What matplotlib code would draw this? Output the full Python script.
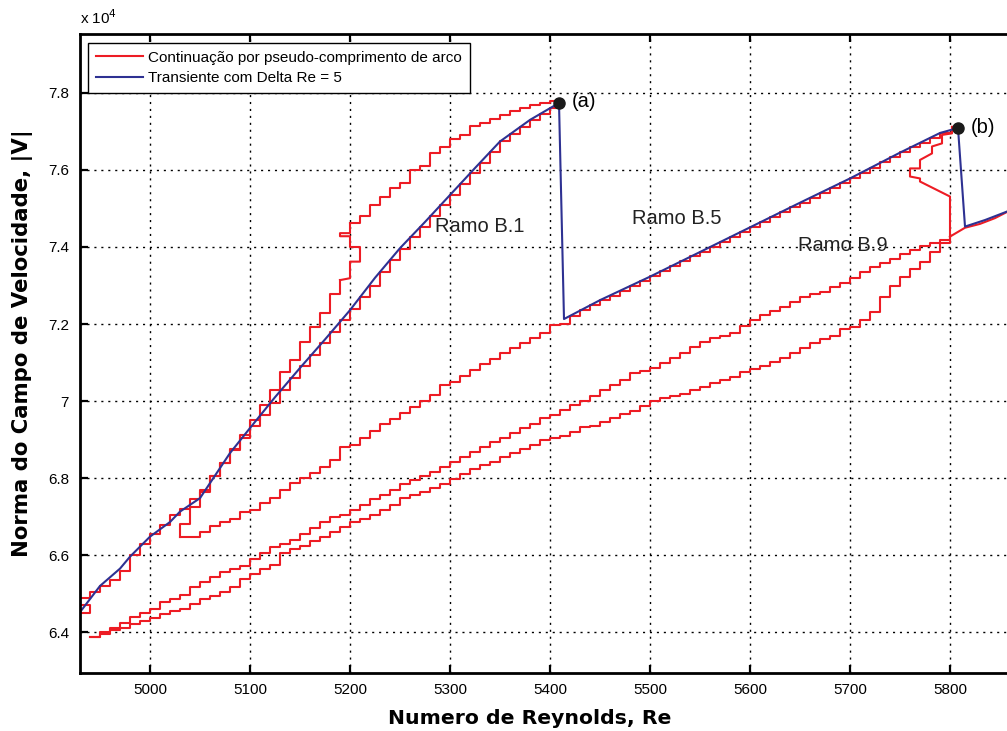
import matplotlib
matplotlib.use('Agg')
import matplotlib.pyplot as plt
from matplotlib.ticker import FormatStrFormatter

plt.rcParams['font.family'] = ['Liberation Sans', 'DejaVu Sans']

# valores de |V| em unidades de 1e4

# Ramo B.1 estavel - canto na borda esquerda (vertices)
re_b1_borda = [4930, 4930, 4940, 4940, 4925, 4925, 4940]
v_b1_borda = [6.41, 6.449, 6.449, 6.47, 6.47, 6.488, 6.488]

# Ramo B.1 estavel (degraus: inicio de cada degrau)
re_b1_est = [4940, 4940, 4950, 4960, 4970, 4980, 4990, 5000, 5010, 5020, 5030,
             5040, 5050, 5060, 5070, 5080, 5090, 5100, 5110, 5120, 5130, 5140,
             5150, 5160, 5170, 5180, 5190, 5200, 5210, 5220, 5230, 5240, 5250,
             5260, 5270, 5280, 5290, 5300, 5310, 5320, 5330, 5340, 5350, 5360,
             5370, 5380, 5390, 5400, 5409]
v_b1_est = [6.488, 6.505, 6.52, 6.535, 6.56, 6.60, 6.63, 6.655, 6.678, 6.705, 6.72,
            6.745, 6.77, 6.805, 6.84, 6.875, 6.905, 6.935, 6.965, 6.995, 7.03, 7.06,
            7.09, 7.12, 7.15, 7.18, 7.21, 7.24, 7.27, 7.30, 7.335, 7.365, 7.395,
            7.425, 7.452, 7.48, 7.508, 7.535, 7.563, 7.591, 7.619, 7.646, 7.674, 7.693,
            7.712, 7.73, 7.746, 7.762, 7.775]

# Ramo B.1 instavel, parte de cima (degraus)
re_b1_sup = [5200, 5210, 5220, 5230, 5240, 5250, 5260, 5270, 5280, 5290, 5300,
             5310, 5320, 5330, 5340, 5350, 5360, 5370, 5380, 5390, 5400, 5409]
v_b1_sup = [7.462, 7.48, 7.509, 7.531, 7.552, 7.566, 7.60, 7.609, 7.643, 7.66, 7.68,
            7.691, 7.713, 7.723, 7.732, 7.742, 7.753, 7.76, 7.769, 7.773, 7.778, 7.775]

# zigue-zague perto de Re = 5200 (vertices)
re_b1_nariz = [5190, 5200, 5200, 5210, 5210, 5200, 5200, 5190, 5190, 5200, 5200]
v_b1_nariz = [7.314, 7.319, 7.362, 7.362, 7.40, 7.40, 7.428, 7.428, 7.436, 7.436, 7.462]

# Ramo B.1 instavel, descida ate o ponto de retorno em Re ~ 5030 (degraus)
re_b1_desc = [5030, 5030, 5040, 5050, 5060, 5070, 5080, 5090, 5100, 5110, 5120,
              5130, 5140, 5150, 5160, 5170, 5180, 5190]
v_b1_desc = [6.648, 6.68, 6.725, 6.765, 6.805, 6.84, 6.873, 6.912, 6.95, 6.99, 7.029,
             7.076, 7.106, 7.154, 7.193, 7.228, 7.277, 7.314]

# ramo inferior a partir de Re ~ 5030 e Ramo B.5 (degraus)
re_b5 = [5030, 5050, 5060, 5070, 5080, 5090, 5100, 5110, 5120, 5130, 5140, 5150,
         5160, 5170, 5180, 5190, 5200, 5210, 5220, 5230, 5240, 5250, 5260, 5270,
         5280, 5290, 5300, 5310, 5320, 5330, 5340, 5350, 5360, 5370, 5380, 5390,
         5400, 5410, 5420, 5430, 5440, 5450, 5460, 5470, 5480, 5490, 5500, 5510,
         5520, 5530, 5540, 5550, 5560, 5570, 5580, 5590, 5600, 5610, 5620, 5630,
         5640, 5650, 5660, 5670, 5680, 5690, 5700, 5710, 5720, 5730, 5740, 5750,
         5760, 5770, 5780, 5790, 5802]
v_b5 = [6.648, 6.661, 6.675, 6.685, 6.695, 6.713, 6.717, 6.735, 6.748, 6.77, 6.788, 6.80,
        6.814, 6.83, 6.847, 6.881, 6.887, 6.905, 6.922, 6.94, 6.954, 6.968, 6.984, 7.00,
        7.015, 7.042, 7.05, 7.065, 7.08, 7.096, 7.11, 7.124, 7.137, 7.15, 7.163, 7.176,
        7.197, 7.20, 7.222, 7.236, 7.249, 7.262, 7.274, 7.287, 7.30, 7.312, 7.325, 7.338,
        7.35, 7.363, 7.376, 7.388, 7.40, 7.413, 7.426, 7.439, 7.452, 7.465, 7.477, 7.49,
        7.503, 7.515, 7.528, 7.541, 7.553, 7.566, 7.579, 7.593, 7.606, 7.62, 7.633, 7.646,
        7.659, 7.671, 7.683, 7.695, 7.712]

# retorno perto do ponto (b) (vertices)
re_b5_volta = [5802, 5802, 5792, 5792, 5782, 5782, 5770, 5770, 5760, 5760, 5770,
               5770, 5780, 5790, 5800, 5800]
v_b5_volta = [7.712, 7.695, 7.691, 7.669, 7.661, 7.643, 7.626, 7.604, 7.604, 7.583, 7.578,
              7.57, 7.557, 7.544, 7.531, 7.427]

# Ramo B.9 - curva de cima (degraus)
re_b9_sup = [4940, 4950, 4960, 4970, 4980, 4990, 5000, 5010, 5020, 5030, 5040, 5050,
             5060, 5070, 5080, 5090, 5100, 5110, 5120, 5130, 5140, 5150, 5160, 5170,
             5180, 5190, 5200, 5210, 5220, 5230, 5240, 5250, 5260, 5270, 5280, 5290,
             5300, 5310, 5320, 5330, 5340, 5350, 5360, 5370, 5380, 5390, 5400, 5410,
             5420, 5430, 5440, 5450, 5460, 5470, 5480, 5490, 5500, 5510, 5520, 5530,
             5540, 5550, 5560, 5570, 5580, 5590, 5600, 5610, 5620, 5630, 5640, 5650,
             5660, 5670, 5680, 5690, 5700, 5710, 5720, 5730, 5740, 5750, 5760, 5770,
             5780, 5790, 5800]
v_b9_sup = [6.388, 6.40, 6.412, 6.425, 6.44, 6.45, 6.459, 6.479, 6.487, 6.496, 6.518, 6.531,
            6.544, 6.557, 6.565, 6.571, 6.591, 6.605, 6.62, 6.628, 6.64, 6.656, 6.67, 6.685,
            6.70, 6.705, 6.717, 6.73, 6.745, 6.757, 6.77, 6.784, 6.795, 6.805, 6.816, 6.83,
            6.843, 6.855, 6.867, 6.88, 6.895, 6.905, 6.918, 6.93, 6.94, 6.955, 6.965, 6.977,
            6.99, 7.00, 7.013, 7.029, 7.042, 7.055, 7.072, 7.078, 7.085, 7.10, 7.111, 7.126,
            7.14, 7.154, 7.163, 7.17, 7.176, 7.195, 7.21, 7.223, 7.235, 7.245, 7.258, 7.271,
            7.278, 7.284, 7.295, 7.307, 7.319, 7.336, 7.347, 7.358, 7.368, 7.382, 7.392, 7.402,
            7.41, 7.418, 7.427]

# Ramo B.9 - curva de baixo (degraus)
re_b9_inf = [4940, 4950, 4960, 4970, 4980, 4990, 5000, 5010, 5020, 5030, 5040, 5050,
             5060, 5070, 5080, 5090, 5100, 5110, 5120, 5130, 5140, 5150, 5160, 5170,
             5180, 5190, 5200, 5210, 5220, 5230, 5240, 5250, 5260, 5270, 5280, 5290,
             5300, 5310, 5320, 5330, 5340, 5350, 5360, 5370, 5380, 5390, 5400, 5410,
             5420, 5430, 5440, 5450, 5460, 5470, 5480, 5490, 5500, 5510, 5520, 5530,
             5540, 5550, 5560, 5570, 5580, 5590, 5600, 5610, 5620, 5630, 5640, 5650,
             5660, 5670, 5680, 5690, 5700, 5710, 5720, 5730, 5740, 5750, 5760, 5770,
             5780, 5790, 5800]
v_b9_inf = [6.388, 6.395, 6.405, 6.41, 6.42, 6.43, 6.437, 6.448, 6.455, 6.461, 6.474, 6.487,
            6.495, 6.504, 6.517, 6.539, 6.552, 6.565, 6.575, 6.605, 6.617, 6.625, 6.637, 6.648,
            6.66, 6.674, 6.686, 6.695, 6.705, 6.718, 6.73, 6.748, 6.755, 6.764, 6.774, 6.785,
            6.797, 6.81, 6.824, 6.833, 6.843, 6.855, 6.866, 6.876, 6.887, 6.899, 6.905, 6.909,
            6.92, 6.932, 6.935, 6.946, 6.955, 6.966, 6.975, 6.987, 7.00, 7.008, 7.013, 7.018,
            7.03, 7.037, 7.046, 7.055, 7.063, 7.075, 7.082, 7.092, 7.102, 7.111, 7.125, 7.139,
            7.15, 7.16, 7.17, 7.186, 7.193, 7.21, 7.232, 7.27, 7.30, 7.322, 7.343, 7.362,
            7.388, 7.41, 7.427]

# Ramo B.9 depois de Re = 5800
re_b9_dir = [5800, 5815, 5830, 5845, 5860]
v_b9_dir = [7.427, 7.45, 7.46, 7.475, 7.495]

# transiente com Delta Re = 5
re_trans = [4930, 4950, 4970, 4980, 5000, 5020, 5030, 5050, 5060, 5080, 5100, 5125,
            5150, 5175, 5200, 5225, 5250, 5275, 5300, 5325, 5350, 5380, 5409,
            5414, 5450, 5500, 5550, 5600, 5650, 5700, 5750, 5790, 5808,
            5815, 5835, 5860]
v_trans = [6.452, 6.52, 6.565, 6.596, 6.648, 6.686, 6.713, 6.748, 6.787, 6.865, 6.93, 7.01,
           7.086, 7.16, 7.236, 7.32, 7.397, 7.465, 7.535, 7.605, 7.674, 7.73, 7.774,
           7.213, 7.262, 7.323, 7.387, 7.451, 7.515, 7.578, 7.645, 7.696, 7.709,
           7.453, 7.47, 7.495]

# pontos (a) e (b)
re_pontos = [5409, 5808]
v_pontos = [7.774, 7.709]

vermelho = '#ed1c24'
azul = '#2e3192'

fig = plt.figure(figsize=(10.07, 7.31), dpi=100)
ax = fig.add_axes([80/1007, 58/731, 927/1007, 639/731])

lw = 1.5
ax.plot(re_b1_borda, v_b1_borda, color=vermelho, lw=lw)
ax.plot(re_b1_est, v_b1_est, color=vermelho, lw=lw, drawstyle='steps-post',
        label='Continuação por pseudo-comprimento de arco')
ax.plot(re_b1_sup, v_b1_sup, color=vermelho, lw=lw, drawstyle='steps-post')
ax.plot(re_b1_nariz, v_b1_nariz, color=vermelho, lw=lw)
ax.plot(re_b1_desc, v_b1_desc, color=vermelho, lw=lw, drawstyle='steps-post')
ax.plot(re_b5, v_b5, color=vermelho, lw=lw, drawstyle='steps-post')
ax.plot(re_b5_volta, v_b5_volta, color=vermelho, lw=lw)
ax.plot(re_b9_sup, v_b9_sup, color=vermelho, lw=lw, drawstyle='steps-post')
ax.plot(re_b9_inf, v_b9_inf, color=vermelho, lw=lw, drawstyle='steps-post')
ax.plot(re_b9_dir, v_b9_dir, color=vermelho, lw=lw)

ax.plot(re_trans, v_trans, color=azul, lw=1.5, label='Transiente com Delta Re = 5')
ax.plot(re_pontos, v_pontos, 'o', color='#1a1a1a', markersize=8, zorder=5)

ax.text(5422, 7.777, '(a)', fontsize=14.5, va='center', ha='left')
ax.text(5821, 7.709, '(b)', fontsize=14.5, va='center', ha='left')
ax.text(5285, 7.452, 'Ramo B.1', fontsize=14.5, va='center', ha='left', color='#222222')
ax.text(5482, 7.475, 'Ramo B.5', fontsize=14.5, va='center', ha='left', color='#222222')
ax.text(5648, 7.405, 'Ramo B.9', fontsize=14.5, va='center', ha='left', color='#222222')

ax.set_xlim(4930, 5857)
ax.set_ylim(6.294, 7.953)
ax.set_xticks([5000, 5100, 5200, 5300, 5400, 5500, 5600, 5700, 5800])
ax.set_yticks([6.4, 6.6, 6.8, 7.0, 7.2, 7.4, 7.6, 7.8])
ax.yaxis.set_major_formatter(FormatStrFormatter('%g'))
ax.grid(True, color='black', linestyle=(0, (1.5, 3.5)), linewidth=1.0)
ax.set_axisbelow(True)

ax.tick_params(direction='in', length=6, width=1.6, labelsize=11, top=True, right=False)
ax.tick_params(axis='x', pad=7)
ax.tick_params(axis='y', pad=8)
for lado in ['left', 'bottom', 'top']:
    ax.spines[lado].set_linewidth(2.0)
ax.spines['right'].set_visible(False)

leg = ax.legend(loc='upper left', bbox_to_anchor=(0.0086, 0.986), borderaxespad=0,
                fontsize=11, fancybox=False, framealpha=1, edgecolor='black',
                handlelength=3.1, handletextpad=0.35, borderpad=0.5, labelspacing=0.42)
leg.get_frame().set_linewidth(1.0)

fig.text(80/1007, 1 - 18/731, r'x 10$^{4}$', fontsize=11, ha='left', va='center')
fig.text(530/1007, 1 - 718/731, 'Numero de Reynolds, Re', fontsize=14.7,
         fontweight='bold', family='DejaVu Sans', ha='center', va='center')
fig.text(23/1007, 1 - 343/731, 'Norma do Campo de Velocidade, |V|', fontsize=15.3,
         fontweight='bold', family='DejaVu Sans', ha='center', va='center', rotation=90)

fig.savefig('out.png', dpi=100)
